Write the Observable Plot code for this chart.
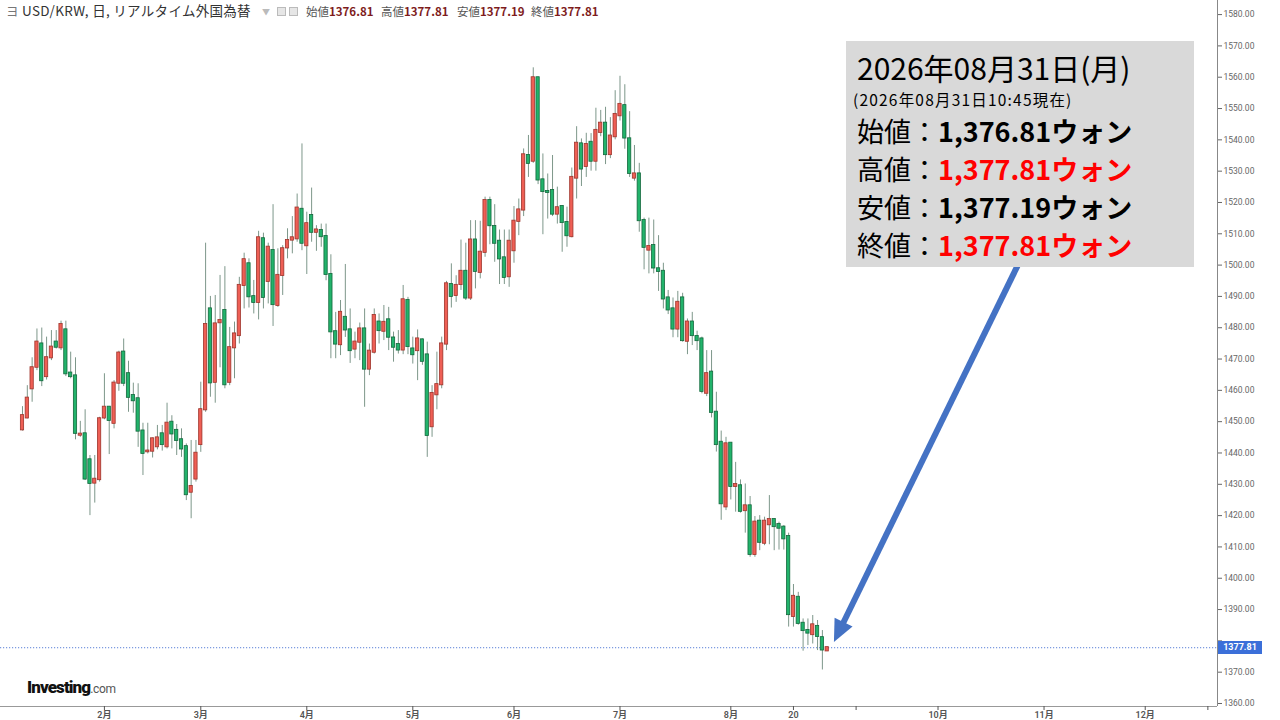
<!DOCTYPE html>
<html><head><meta charset="utf-8">
<script src="https://cdn.jsdelivr.net/npm/d3@7"></script>
<script src="https://cdn.jsdelivr.net/npm/@observablehq/plot@0.6"></script>
<style>
body{margin:0;background:#fff;}
#wrap{position:relative;width:1280px;height:720px;overflow:hidden;font-family:"Noto Sans CJK JP","Noto Sans",sans-serif;}
#wrap svg{position:absolute;left:0;top:0;}
.abs{position:absolute;white-space:nowrap;line-height:1;}
.hdr{top:5px;font-size:12.5px;color:#333;}
.grp{top:6px;font-size:11.5px;}
.lab{color:#555;}
.val{color:#7e1c1c;font-weight:700;}
.ico{position:absolute;top:7px;width:9px;height:9px;border:1px solid #bbb;background:#e6e6e6;box-sizing:border-box;}
#box{position:absolute;left:846px;top:41px;width:348px;height:226px;background:#d9d9d9;}
.bl{color:#000;}
.bl b{font-weight:700;}
.red{color:#ff0000;}
#logo{left:27px;top:679px;font-family:Roboto,"Liberation Sans",sans-serif;}
#price{position:absolute;left:1218px;width:44px;height:13px;background:#3b6fd9;color:#fff;font:bold 9px Roboto,"Liberation Sans",sans-serif;line-height:13px;text-align:center;}
</style></head><body>
<div id="wrap"></div>
<script>
// ---- data (trading days from 2026-01-08 to 2026-08-31, index order) ----
const opens = [
1447.4,1451.2,1460.5,1467.4,1474.8,1464.4,1470.4,1475.4,1473.6,1479.3,
1465.5,1464.6,1445.7,1446.1,1437.8,1430.4,1431.5,1451.2,1454.6,1449.5,
1462.3,1472.2,1465.3,1458.3,1457.3,1447.0,1440.4,1440.6,1442.0,1446.1,
1442.0,1449.8,1447.2,1444.2,1442.0,1427.5,1431.7,1442.7,1453.8,1486.0,
1462.6,1481.6,1485.5,1462.6,1473.6,1477.5,1493.5,1500.4,1489.9,1488.1,
1508.4,1494.8,1504.6,1487.1,1496.7,1505.5,1508.0,1508.4,1517.8,1506.2,
1515.8,1510.5,1511.0,1509.1,1497.0,1478.7,1474.6,1483.3,1479.3,1473.2,
1475.4,1479.6,1466.8,1472.2,1481.8,1478.9,1482.5,1476.7,1474.6,1472.9,
1488.7,1473.2,1472.7,1476.1,1471.3,1448.4,1458.6,1461.8,1474.8,1493.8,
1490.3,1493.8,1498.0,1489.5,1508.0,1497.7,1504.1,1520.6,1512.3,1507.6,
1502.3,1496.3,1504.6,1514.0,1517.6,1535.0,1533.2,1559.8,1527.2,1523.5,
1523.8,1516.3,1518.7,1513.6,1509.1,1527.8,1538.7,1531.5,1539.2,1533.2,
1542.4,1545.3,1535.3,1541.0,1547.7,1550.9,1540.3,1527.8,1529.1,1514.2,
1504.8,1506.2,1498.8,1498.0,1489.5,1486.0,1479.6,1489.5,1475.7,1481.8,
1477.2,1476.4,1459.1,1465.8,1453.0,1443.4,1422.8,1443.1,1429.3,1429.5,
1421.6,1423.1,1407.6,1418.2,1411.2,1417.1,1418.7,1417.1,1416.3,1413.3,
1387.8,1393.9,1385.6,1383.3,1382.0,1384.6,1381.0,1376.81];
const highs = [
1454.8,1461.5,1470.4,1479.6,1479.9,1477.0,1479.1,1479.1,1482.1,1482.1,
1472.2,1470.4,1450.1,1453.8,1439.2,1439.2,1451.4,1465.3,1454.8,1463.1,
1472.5,1476.4,1469.3,1462.3,1462.1,1449.5,1449.5,1444.8,1448.8,1448.8,
1455.9,1451.9,1449.1,1447.7,1442.9,1444.0,1444.0,1462.6,1507.0,1490.0,
1490.3,1496.7,1499.5,1480.1,1481.8,1496.1,1503.8,1502.0,1495.1,1510.8,
1510.2,1507.0,1519.3,1505.2,1506.2,1511.6,1515.5,1522.7,1538.7,1516.9,
1524.6,1512.6,1513.1,1513.1,1503.3,1484.9,1488.7,1500.2,1486.0,1478.6,
1481.5,1486.0,1474.8,1486.0,1484.4,1487.1,1486.5,1478.6,1479.1,1493.5,
1489.7,1477.0,1479.3,1476.4,1475.4,1461.5,1472.2,1477.0,1494.8,1500.4,
1496.6,1508.0,1507.0,1514.2,1514.2,1514.0,1521.7,1521.7,1519.3,1511.2,
1511.2,1511.2,1518.7,1521.1,1537.1,1541.4,1563.0,1560.0,1535.5,1529.1,
1535.0,1524.9,1519.0,1518.5,1531.0,1544.2,1540.3,1542.1,1542.0,1550.1,
1549.4,1550.4,1547.1,1555.7,1560.3,1557.6,1549.0,1538.2,1532.5,1515.0,
1515.0,1514.4,1509.4,1500.6,1491.9,1489.5,1491.6,1491.0,1482.8,1484.9,
1478.9,1477.0,1472.7,1472.7,1459.4,1447.0,1445.0,1443.1,1437.0,1431.4,
1430.1,1426.1,1419.7,1420.0,1419.5,1426.4,1419.0,1417.9,1416.8,1414.4,
1398.0,1395.5,1387.0,1387.0,1388.1,1386.5,1383.3,1377.81];
const lows = [
1447.0,1450.9,1456.2,1466.3,1461.2,1463.3,1469.5,1473.2,1472.7,1464.4,
1463.7,1444.2,1445.0,1431.2,1420.0,1424.0,1430.7,1450.6,1439.5,1447.7,
1459.7,1461.2,1453.0,1452.7,1441.8,1432.8,1439.7,1438.4,1441.0,1440.6,
1441.3,1441.3,1439.2,1438.6,1424.8,1419.0,1430.7,1440.2,1453.0,1457.8,
1455.9,1467.2,1460.5,1461.5,1463.7,1474.8,1486.0,1486.3,1484.4,1482.5,
1486.0,1487.6,1480.4,1486.5,1490.3,1502.0,1503.6,1507.3,1504.6,1497.0,
1507.3,1504.4,1505.7,1495.0,1470.1,1470.1,1471.1,1476.9,1468.6,1470.1,
1469.5,1454.6,1464.7,1471.6,1474.8,1475.9,1472.7,1469.0,1471.6,1471.4,
1471.4,1468.4,1463.1,1468.0,1438.6,1445.0,1453.8,1460.5,1472.7,1486.3,
1488.1,1491.9,1488.7,1488.7,1492.4,1495.6,1502.5,1506.5,1500.9,1493.8,
1493.8,1492.9,1500.6,1509.4,1515.5,1528.0,1532.5,1525.7,1509.7,1514.7,
1515.5,1513.1,1504.1,1505.7,1508.7,1521.1,1525.1,1528.0,1530.0,1530.0,
1541.0,1532.1,1534.0,1540.0,1546.0,1537.0,1528.0,1526.8,1510.5,1498.5,
1497.2,1497.2,1491.6,1486.0,1484.2,1476.8,1476.8,1475.4,1471.4,1474.3,
1472.7,1458.9,1458.0,1451.2,1440.3,1418.5,1421.6,1425.0,1421.1,1420.8,
1414.4,1406.7,1406.7,1408.8,1410.4,1410.7,1408.8,1409.0,1409.0,1384.4,
1384.4,1385.0,1376.7,1378.5,1379.0,1376.9,1370.7,1377.19];
const closes = [
1451.9,1457.5,1467.2,1475.4,1463.1,1470.4,1473.8,1473.8,1481.0,1465.3,
1464.4,1446.3,1446.0,1431.7,1430.3,1431.6,1450.9,1454.6,1450.4,1462.3,
1471.9,1462.3,1457.8,1456.7,1447.0,1439.9,1440.6,1444.5,1444.8,1442.7,
1449.5,1446.1,1444.0,1441.3,1426.7,1429.3,1439.9,1453.8,1481.0,1462.4,
1481.2,1482.3,1461.8,1473.6,1478.0,1493.5,1501.7,1489.9,1488.1,1508.7,
1489.7,1505.7,1487.4,1496.7,1505.2,1507.8,1508.7,1518.2,1507.0,1513.2,
1510.5,1511.2,1509.1,1497.0,1478.7,1474.8,1484.9,1479.3,1472.7,1475.4,
1479.6,1466.8,1472.5,1483.9,1479.1,1481.7,1477.0,1473.8,1472.9,1488.9,
1474.0,1471.4,1476.4,1469.3,1445.6,1459.0,1461.8,1474.8,1494.0,1490.0,
1493.5,1498.0,1489.5,1508.0,1498.0,1504.1,1520.6,1512.6,1507.0,1502.0,
1496.1,1507.6,1514.0,1517.6,1535.2,1532.5,1559.8,1527.2,1523.5,1523.2,
1516.3,1518.3,1513.6,1509.4,1528.0,1538.9,1530.7,1538.5,1533.2,1543.0,
1545.3,1535.3,1541.2,1548.1,1551.3,1540.6,1529.3,1529.1,1514.2,1505.7,
1505.9,1499.1,1498.0,1489.2,1485.7,1479.6,1488.1,1475.9,1481.8,1477.5,
1475.9,1459.7,1465.3,1453.0,1442.7,1423.8,1442.9,1429.3,1429.9,1421.4,
1423.1,1407.6,1417.9,1411.5,1418.2,1418.7,1416.5,1416.0,1412.6,1388.4,
1394.2,1385.6,1383.3,1382.5,1385.1,1381.4,1377.1,1377.81];

// x-axis ticks (trading-day index) and labels
const xTickIdx    = [17, 37, 59, 81, 102, 124, 147, 160, 173, 190, 212, 233, 246];
const xTickLabels = ["2月","3月","4月","5月","6月","7月","8月","20","","10月","11月","12月",""];
// y-axis ticks (the 1380 label sits under the current-price tag)
const yTicks = [1360,1370,1380,1390,1400,1410,1420,1430,1440,1450,1460,1470,1480,1490,1500,1510,1520,1530,1540,1550,1560,1570,1580];
const yHiddenLabel = 1380;
// annotation arrow (from the info box to the last candle)
const arrowFrom = {i: 207.2, v: 1501.5};
const arrowTo   = {i: 168.5, v: 1379.5};

const lastClose = closes[closes.length - 1];
const xDomain = [-4.565, 248];
const yDomain = [1359.04, 1584.5];

const RED = "#ee5f55", RED_E = "#9e342b", GRN = "#22b36b", GRN_E = "#12683c", WICK = "#7d978a";

const data = opens.map((o, i) => {
  const c = closes[i];
  return {i, o, c, h: Math.max(highs[i], o, c), l: Math.min(lows[i], o, c), up: c >= o};
});
const labelMap = new Map(xTickIdx.map((d, k) => [d, xTickLabels[k]]));

const plot = Plot.plot({
  width: 1280, height: 720,
  marginTop: 0, marginBottom: 14, marginLeft: 0, marginRight: 63,
  x: {type: "linear", domain: xDomain},
  y: {domain: yDomain},
  style: {background: "white", fontFamily: "Roboto, 'Noto Sans CJK JP', sans-serif", overflow: "visible"},
  marks: [
    Plot.ruleY([lastClose], {stroke: "#5a80d8", strokeDasharray: "1.2,1.8", strokeWidth: 1}),
    Plot.ruleX(data, {x: "i", y1: "l", y2: "h", stroke: WICK, strokeWidth: 1}),
    Plot.rect(data, {
      x1: d => d.i - 0.34, x2: d => d.i + 0.34, y1: "o", y2: "c",
      fill: d => d.up ? RED : GRN, stroke: d => d.up ? RED_E : GRN_E, strokeWidth: 0.8,
      insetTop: -0.6, insetBottom: -0.6
    }),
    Plot.ruleY([yDomain[0]], {stroke: "#999", strokeWidth: 1}),
    Plot.ruleX([xDomain[1]], {stroke: "#888", strokeWidth: 1}),
    Plot.axisY({anchor: "right", label: null, ticks: yTicks, tickFormat: d => d === yHiddenLabel ? "" : d.toFixed(2), tickSize: 4, tickPadding: 2, fontSize: 8.5, color: "#666"}),
    Plot.axisX({anchor: "bottom", label: null, ticks: xTickIdx, tickFormat: d => labelMap.get(d) ?? "", tickSize: 4, tickPadding: 1, fontSize: 9, fontWeight: 600, color: "#555"})
  ]
});

const wrap = document.getElementById("wrap");
wrap.appendChild(plot);

// arrow drawn through the plot's own scales
const sx = plot.scale("x"), sy = plot.scale("y");
const p0 = [sx.apply(arrowFrom.i), sy.apply(arrowFrom.v)];
const p1 = [sx.apply(arrowTo.i), sy.apply(arrowTo.v)];
const dx = p1[0] - p0[0], dy = p1[1] - p0[1], len = Math.hypot(dx, dy);
const ux = dx / len, uy = dy / len, nx = -uy, ny = ux;
const headL = 22, headW = 10;
const base = [p1[0] - ux * headL, p1[1] - uy * headL];
const svg = d3.select(plot);
svg.append("line").attr("x1", p0[0]).attr("y1", p0[1]).attr("x2", base[0] + ux * 2).attr("y2", base[1] + uy * 2)
  .attr("stroke", "#4472c4").attr("stroke-width", 6);
svg.append("polygon").attr("points", [
  [p1[0], p1[1]], [base[0] + nx * headW, base[1] + ny * headW], [base[0] - nx * headW, base[1] - ny * headW]
].map(p => p.join(",")).join(" ")).attr("fill", "#4472c4");

// overlays (real text)
const html = `
<span class="abs hdr" style="left:6px;color:#777">ヨ</span>
<span class="abs hdr" style="left:22px;font-size:13.5px;top:4px;letter-spacing:0.3px">USD/KRW, 日, リアルタイム外国為替</span>
<span class="abs hdr" style="left:262px;color:#bbb;font-size:8px;top:8px">▼</span>
<span class="ico" style="left:277px"></span><span class="ico" style="left:289px"></span>
<span class="abs grp" style="left:306px"><span class="lab">始値</span><span class="val">1376.81</span></span>
<span class="abs grp" style="left:381px"><span class="lab">高値</span><span class="val">1377.81</span></span>
<span class="abs grp" style="left:457px"><span class="lab">安値</span><span class="val">1377.19</span></span>
<span class="abs grp" style="left:531px"><span class="lab">終値</span><span class="val">1377.81</span></span>
<div id="box">
  <div class="abs bl" style="left:11px;top:11px;font-size:30px;">2026年08月31日(月)</div>
  <div class="abs bl" style="left:7px;top:51px;font-size:15.5px;letter-spacing:1.2px;">(2026年08月31日10:45現在)</div>
  <div class="abs bl" style="left:11px;top:76px;font-size:27px;">始値：<b>1,376.81ウォン</b></div>
  <div class="abs bl" style="left:11px;top:114px;font-size:27px;">高値：<b class="red">1,377.81ウォン</b></div>
  <div class="abs bl" style="left:11px;top:152px;font-size:27px;">安値：<b>1,377.19ウォン</b></div>
  <div class="abs bl" style="left:11px;top:190px;font-size:27px;">終値：<b class="red">1,377.81ウォン</b></div>
</div>
<div id="logo" class="abs"><span style="font-size:17px;font-weight:900;letter-spacing:-0.9px;color:#111">Investing</span><span style="font-size:12px;color:#555;letter-spacing:-0.3px">.com</span></div>
`;
wrap.insertAdjacentHTML("beforeend", html);
const price = document.createElement("div");
price.id = "price";
price.textContent = lastClose.toFixed(2);
price.style.top = (sy.apply(lastClose) - 6.5) + "px";
wrap.appendChild(price);
</script>
</body></html>
